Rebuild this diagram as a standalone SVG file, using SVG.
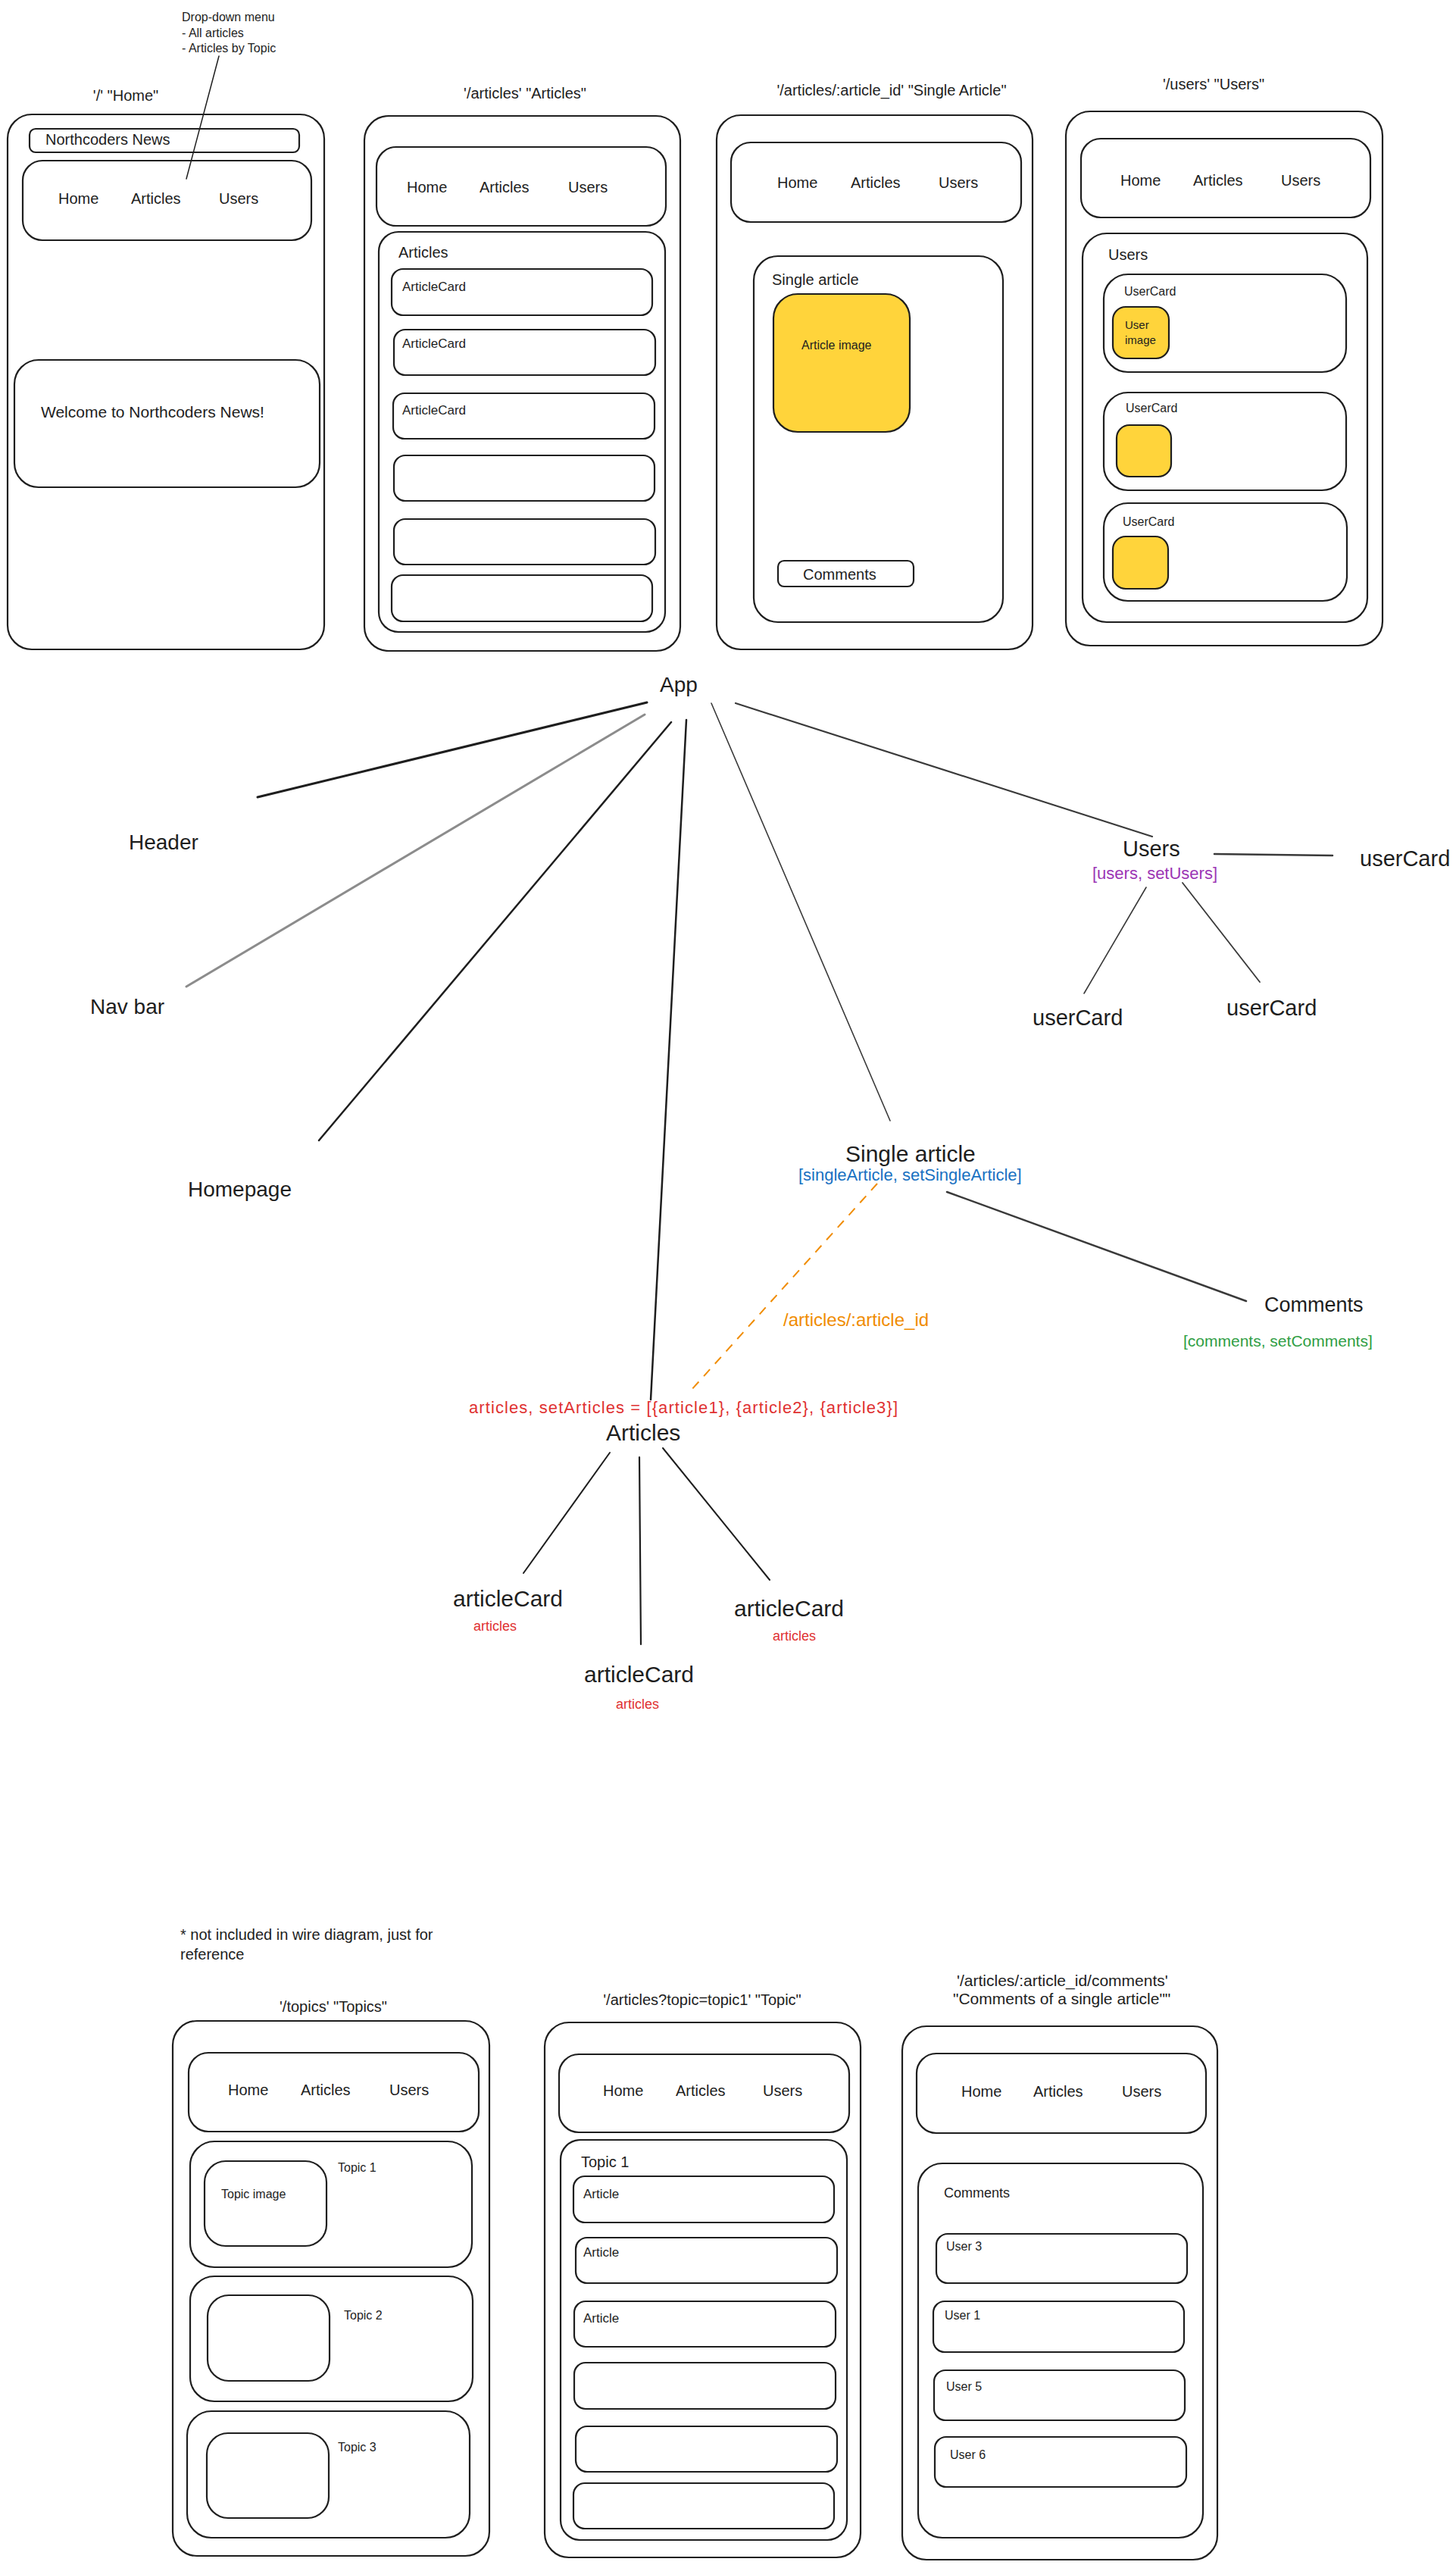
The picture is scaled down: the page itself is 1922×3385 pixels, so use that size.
<svg xmlns="http://www.w3.org/2000/svg" width="1922" height="3385" viewBox="0 0 1922 3385">
<style>
.b{fill:none;stroke:#1e1e1e;stroke-width:2.2}
.y{fill:#ffd43b;stroke:#1e1e1e;stroke-width:2.2}
text{font-family:"Liberation Sans","DejaVu Sans",sans-serif;fill:#1e1e1e}
.s16{font-size:16px}.s17{font-size:17px}.s20{font-size:20px}.s28{font-size:28px}.s30{font-size:30px}
.m{text-anchor:middle}
.c{fill:none;stroke:#1e1e1e;stroke-linecap:round}
.gray{stroke:#8c8c8c}
.dk{stroke:#3a3a3a}
.dash{stroke:#f08c00;stroke-dasharray:12 10;stroke-linecap:butt}
</style>
<rect x="0" y="0" width="1922" height="3385" fill="#ffffff"/>

<g id="note-dropdown">
<text class="s16" x="240" y="28">Drop-down menu</text>
<text class="s16" x="240" y="49">- All articles</text>
<text class="s16" x="240" y="69">- Articles by Topic</text>
<line class="c" x1="289" y1="74" x2="246" y2="236" stroke-width="1.5"/>
</g>

<g id="page-home">
<text class="s20 m" x="166" y="133">'/' "Home"</text>
<rect class="b" x="10" y="151" width="418" height="706" rx="32"/>
<rect class="b" x="39" y="170" width="356" height="31" rx="8"/>
<text class="s20" x="60" y="191">Northcoders News</text>
<rect class="b" x="30" y="212" width="381" height="105" rx="26"/>
<text class="s20" x="77" y="269">Home</text>
<text class="s20" x="173" y="269">Articles</text>
<text class="s20" x="289" y="269">Users</text>
<rect class="b" x="19" y="475" width="403" height="168" rx="32"/>
<text class="s20" x="54" y="551" style="font-size:21px">Welcome to Northcoders News!</text>
</g>

<g id="page-articles">
<text class="s20 m" x="693" y="130">'/articles' "Articles"</text>
<rect class="b" x="481" y="153" width="417" height="706" rx="32"/>
<rect class="b" x="497" y="194" width="382" height="104" rx="26"/>
<text class="s20" x="537" y="254">Home</text>
<text class="s20" x="633" y="254">Articles</text>
<text class="s20" x="750" y="254">Users</text>
<rect class="b" x="500" y="306" width="378" height="528" rx="26"/>
<text class="s20" x="526" y="340">Articles</text>
<rect class="b" x="517" y="355" width="344" height="61" rx="15"/>
<text class="s17" x="531" y="384">ArticleCard</text>
<rect class="b" x="520" y="435" width="345" height="60" rx="15"/>
<text class="s17" x="531" y="459">ArticleCard</text>
<rect class="b" x="519" y="519" width="345" height="60" rx="15"/>
<text class="s17" x="531" y="547">ArticleCard</text>
<rect class="b" x="520" y="601" width="344" height="60" rx="15"/>
<rect class="b" x="520" y="685" width="345" height="60" rx="15"/>
<rect class="b" x="517" y="759" width="344" height="61" rx="15"/>
</g>

<g id="page-single-article">
<text class="s20 m" x="1177" y="126">'/articles/:article_id' "Single Article"</text>
<rect class="b" x="946" y="152" width="417" height="705" rx="32"/>
<rect class="b" x="965" y="188" width="383" height="105" rx="26"/>
<text class="s20" x="1026" y="248">Home</text>
<text class="s20" x="1123" y="248">Articles</text>
<text class="s20" x="1239" y="248">Users</text>
<rect class="b" x="995" y="338" width="329" height="483" rx="32"/>
<text class="s20" x="1019" y="376">Single article</text>
<rect class="y" x="1021" y="388" width="180" height="182" rx="32"/>
<text class="s16" x="1058" y="461">Article image</text>
<rect class="b" x="1027" y="740" width="179" height="34" rx="8"/>
<text class="s20" x="1060" y="765">Comments</text>
</g>

<g id="page-users">
<text class="s20 m" x="1602" y="118">'/users' "Users"</text>
<rect class="b" x="1407" y="147" width="418" height="705" rx="32"/>
<rect class="b" x="1427" y="183" width="382" height="104" rx="26"/>
<text class="s20" x="1479" y="245">Home</text>
<text class="s20" x="1575" y="245">Articles</text>
<text class="s20" x="1691" y="245">Users</text>
<rect class="b" x="1429" y="308" width="376" height="513" rx="32"/>
<text class="s20" x="1463" y="343">Users</text>
<rect class="b" x="1457" y="362" width="320" height="129" rx="32"/>
<text class="s16" x="1484" y="390">UserCard</text>
<rect class="y" x="1469" y="405" width="74" height="68" rx="17"/>
<text x="1485" y="434" style="font-size:15px">User</text>
<text x="1485" y="454" style="font-size:15px">image</text>
<rect class="b" x="1457" y="518" width="320" height="129" rx="32"/>
<text class="s16" x="1486" y="544">UserCard</text>
<rect class="y" x="1474" y="561" width="72" height="68" rx="17"/>
<rect class="b" x="1457" y="664" width="321" height="129" rx="32"/>
<text class="s16" x="1482" y="694">UserCard</text>
<rect class="y" x="1469" y="708" width="73" height="69" rx="17"/>
</g>

<g id="connectors">
<line class="c" x1="854" y1="927" x2="340" y2="1052" stroke-width="3"/>
<line class="c gray" x1="851" y1="943" x2="246" y2="1302" stroke-width="3"/>
<line class="c" x1="886" y1="953" x2="421" y2="1505" stroke-width="2.5"/>
<line class="c" x1="906" y1="950" x2="859" y2="1847" stroke-width="2.5"/>
<line class="c dk" x1="939" y1="928" x2="1175" y2="1479" stroke-width="1.6"/>
<line class="c dk" x1="971" y1="928" x2="1521" y2="1104" stroke-width="2.2"/>
<line class="c dk" x1="1603" y1="1127" x2="1759" y2="1129" stroke-width="2.5"/>
<line class="c dk" x1="1513" y1="1171" x2="1431" y2="1311" stroke-width="1.6"/>
<line class="c dk" x1="1561" y1="1165" x2="1663" y2="1296" stroke-width="1.8"/>
<line class="c dk" x1="1250" y1="1573" x2="1645" y2="1717" stroke-width="2.5"/>
<line class="c dash" x1="1158" y1="1562" x2="912" y2="1835" stroke-width="2"/>
<line class="c" x1="805" y1="1917" x2="691" y2="2076" stroke-width="2"/>
<line class="c" x1="844" y1="1923" x2="846" y2="2170" stroke-width="2.2"/>
<line class="c" x1="875" y1="1911" x2="1016" y2="2085" stroke-width="2"/>
</g>

<g id="node-app"><text class="s28" x="871" y="913">App</text></g>
<g id="node-header"><text class="s28" x="170" y="1121">Header</text></g>
<g id="node-navbar"><text class="s28" x="119" y="1338">Nav bar</text></g>
<g id="node-homepage"><text class="s28" x="248" y="1579">Homepage</text></g>
<g id="node-users">
<text x="1482" y="1130" style="font-size:29px">Users</text>
<text x="1442" y="1160" style="font-size:22px;fill:#9c36b5">[users, setUsers]</text>
</g>
<g id="node-usercard-1"><text x="1795" y="1143" style="font-size:29px">userCard</text></g>
<g id="node-usercard-2"><text x="1363" y="1353" style="font-size:29px">userCard</text></g>
<g id="node-usercard-3"><text x="1619" y="1340" style="font-size:29px">userCard</text></g>
<g id="node-single-article">
<text class="s30" x="1116" y="1533">Single article</text>
<text x="1054" y="1558" style="font-size:22px;fill:#1971c2">[singleArticle, setSingleArticle]</text>
</g>
<g id="label-route"><text x="1034" y="1750" style="font-size:24px;fill:#f08c00">/articles/:article_id</text></g>
<g id="node-comments">
<text x="1669" y="1731" style="font-size:27px">Comments</text>
<text x="1562" y="1777" style="font-size:21px;fill:#2f9e44">[comments, setComments]</text>
</g>
<g id="node-articles">
<text x="619" y="1865" style="font-size:22px;fill:#e03131" textLength="566" lengthAdjust="spacing">articles, setArticles = [{article1}, {article2}, {article3}]</text>
<text class="s30" x="800" y="1901">Articles</text>
</g>
<g id="node-articlecard-1">
<text class="s30" x="598" y="2120">articleCard</text>
<text x="625" y="2152" style="font-size:18px;fill:#e03131">articles</text>
</g>
<g id="node-articlecard-2">
<text class="s30" x="771" y="2220">articleCard</text>
<text x="813" y="2255" style="font-size:18px;fill:#e03131">articles</text>
</g>
<g id="node-articlecard-3">
<text class="s30" x="969" y="2133">articleCard</text>
<text x="1020" y="2165" style="font-size:18px;fill:#e03131">articles</text>
</g>

<g id="note-reference">
<text class="s20" x="238" y="2560">* not included in wire diagram, just for</text>
<text class="s20" x="238" y="2586">reference</text>
</g>

<g id="page-topics">
<text class="s20 m" x="440" y="2655">'/topics' "Topics"</text>
<rect class="b" x="228" y="2667" width="418" height="706" rx="32"/>
<rect class="b" x="249" y="2709" width="383" height="104" rx="26"/>
<text class="s20" x="301" y="2765">Home</text>
<text class="s20" x="397" y="2765">Articles</text>
<text class="s20" x="514" y="2765">Users</text>
<rect class="b" x="251" y="2826" width="372" height="166" rx="32"/>
<rect class="b" x="270" y="2852" width="161" height="112" rx="28"/>
<text class="s16" x="292" y="2901">Topic image</text>
<text class="s16" x="446" y="2866">Topic 1</text>
<rect class="b" x="251" y="3004" width="373" height="165" rx="32"/>
<rect class="b" x="274" y="3029" width="161" height="113" rx="28"/>
<text class="s16" x="454" y="3061">Topic 2</text>
<rect class="b" x="247" y="3182" width="373" height="167" rx="32"/>
<rect class="b" x="273" y="3211" width="161" height="112" rx="28"/>
<text class="s16" x="446" y="3235">Topic 3</text>
</g>

<g id="page-topic">
<text class="s20 m" x="927" y="2646">'/articles?topic=topic1' "Topic"</text>
<rect class="b" x="719" y="2669" width="417" height="706" rx="32"/>
<rect class="b" x="738" y="2711" width="383" height="103" rx="26"/>
<text class="s20" x="796" y="2766">Home</text>
<text class="s20" x="892" y="2766">Articles</text>
<text class="s20" x="1007" y="2766">Users</text>
<rect class="b" x="740" y="2824" width="378" height="528" rx="26"/>
<text class="s20" x="767" y="2860">Topic 1</text>
<rect class="b" x="757" y="2872" width="344" height="61" rx="15"/>
<text class="s17" x="770" y="2901">Article</text>
<rect class="b" x="760" y="2953" width="345" height="60" rx="15"/>
<text class="s17" x="770" y="2978">Article</text>
<rect class="b" x="758" y="3037" width="345" height="60" rx="15"/>
<text class="s17" x="770" y="3065">Article</text>
<rect class="b" x="758" y="3118" width="345" height="61" rx="15"/>
<rect class="b" x="760" y="3202" width="345" height="60" rx="15"/>
<rect class="b" x="757" y="3277" width="344" height="60" rx="15"/>
</g>

<g id="page-comments">
<text x="1263" y="2621" style="font-size:21px">'/articles/:article_id/comments'</text>
<text x="1258" y="2645" style="font-size:21px">"Comments of a single article""</text>
<rect class="b" x="1191" y="2674" width="416" height="704" rx="32"/>
<rect class="b" x="1210" y="2710" width="382" height="105" rx="26"/>
<text class="s20" x="1269" y="2767">Home</text>
<text class="s20" x="1364" y="2767">Articles</text>
<text class="s20" x="1481" y="2767">Users</text>
<rect class="b" x="1212" y="2855" width="376" height="494" rx="32"/>
<text x="1246" y="2900" style="font-size:18px">Comments</text>
<rect class="b" x="1236" y="2948" width="331" height="65" rx="15"/>
<text class="s16" x="1249" y="2970">User 3</text>
<rect class="b" x="1232" y="3037" width="331" height="67" rx="15"/>
<text class="s16" x="1247" y="3061">User 1</text>
<rect class="b" x="1233" y="3128" width="331" height="66" rx="15"/>
<text class="s16" x="1249" y="3155">User 5</text>
<rect class="b" x="1234" y="3216" width="332" height="66" rx="15"/>
<text class="s16" x="1254" y="3245">User 6</text>
</g>
</svg>
